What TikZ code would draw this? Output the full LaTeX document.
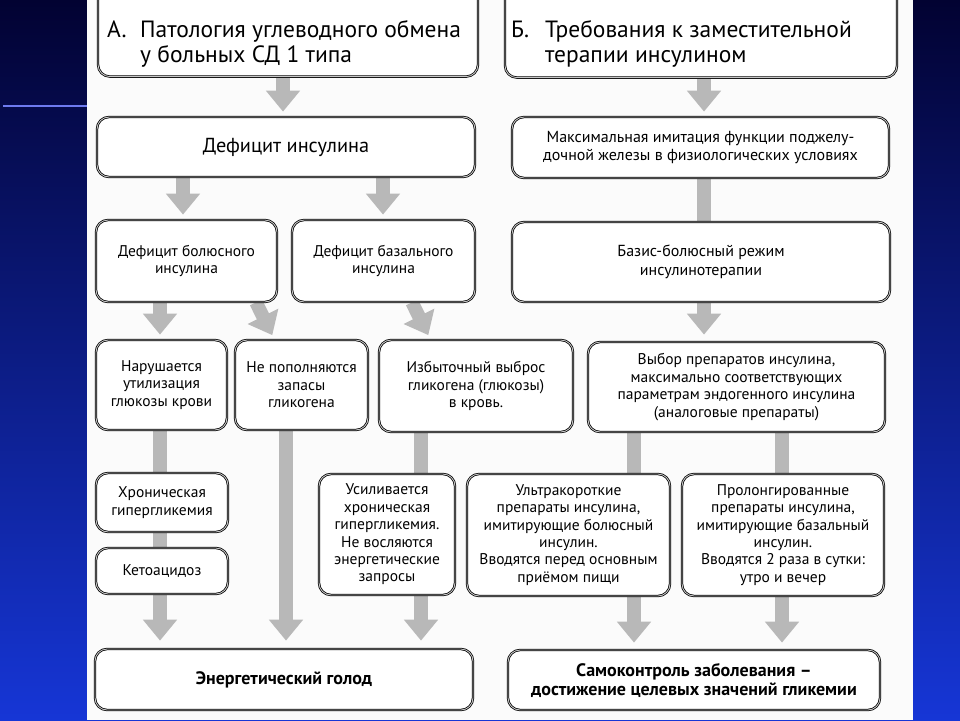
\documentclass[tikz,border=0pt]{standalone}
\usepackage{fontspec}
\setmainfont{PT Sans}
\usetikzlibrary{arrows.meta}
\definecolor{bgtop}{RGB}{2,2,50}
\definecolor{bgbot}{RGB}{22,54,214}
\definecolor{bluerule}{RGB}{110,122,240}
\definecolor{paper}{RGB}{251,251,251}
\definecolor{flow}{RGB}{184,184,184}
\pgfdeclarelayer{paperlayer}
\pgfdeclarelayer{flowlayer}
\pgfsetlayers{paperlayer,flowlayer,main}
\tikzset{
  box/.style={draw=black, double=gray!45, double distance=0.9pt, line width=0.75pt,
    fill=white, rounded corners=12pt, inner sep=0pt, align=center,
    font=\fontsize{15.5}{17.4}\selectfont},
  bigbox/.style={box, font=\fontsize{20.3}{23}\selectfont},
  boldbox/.style={box, font=\bfseries\fontsize{18}{19}\selectfont},
  titletext/.style={anchor=north west, inner sep=0pt, align=left, font=\fontsize{23.5}{25}\selectfont},
  bar/.style={color=flow, line width=13.5pt},
  flowarrow/.style={bar, -{Triangle[width=33pt,length=21pt]}},
}
\begin{document}
\begin{tikzpicture}[x=1pt,y=-1pt]
\useasboundingbox (0,0) rectangle (960,720);
\begin{pgfonlayer}{paperlayer}
\shade[top color=bgtop,bottom color=bgbot] (0,0) rectangle (960,720);
\draw[bluerule, line width=1.5pt] (3,106) -- (87,106);
\fill[paper] (87,0) rectangle (913,720);
\end{pgfonlayer}

\node[box, minimum width=380pt, minimum height=112pt, anchor=south] (patol) at (288,77) {};
\node[titletext] (patoltxt) at (107,20) {\makebox[33pt][l]{А.}Патология углеводного обмена\\\hspace*{33pt}у больных СД 1 типа};
\node[bigbox, minimum width=378pt, minimum height=60pt] (defic) at (286,147) {Дефицит инсулина};
\node[box, minimum width=181pt, minimum height=82pt] (bolus) at (186.5,261) {Дефицит болюсного\\инсулина};
\node[box, minimum width=183pt, minimum height=82pt] (basal) at (383.5,261) {Дефицит базального\\инсулина};
\node[box, minimum width=131pt, minimum height=90pt] (narush) at (161.5,385) {Нарушается\\утилизация\\глюкозы крови};
\node[box, minimum width=133pt, minimum height=90pt] (zapas) at (301.5,385) {Не пополняются\\запасы\\гликогена};
\node[box, minimum width=194pt, minimum height=92pt] (vybros) at (476,386) {Избыточный выброс\\гликогена (глюкозы)\\в кровь.};
\node[box, minimum width=132pt, minimum height=59pt] (hron) at (162,502.5) {Хроническая\\гипергликемия};
\node[box, minimum width=132pt, minimum height=46pt] (keto) at (162,571) {Кетоацидоз};
\node[box, minimum width=136pt, minimum height=121pt] (usil) at (387,534.5) {Усиливается\\хроническая\\гипергликемия.\\Не восляются\\энергетические\\запросы};
\node[boldbox, minimum width=378pt, minimum height=61pt] (golod) at (284,679.5) {Энергетический голод};

\node[box, minimum width=392pt, minimum height=112pt, anchor=south] (treb) at (701,78) {};
\node[titletext] (trebtxt) at (511,20) {\makebox[34pt][l]{Б.}Требования к заместительной\\\hspace*{34pt}терапии инсулином};
\node[box, minimum width=377pt, minimum height=61pt, font=\fontsize{16}{17.4}\selectfont] (imit) at (700.5,147.5) {Максимальная имитация функции поджелу-\\дочной железы в физиологических условиях};
\node[box, minimum width=378pt, minimum height=80pt, font=\fontsize{16}{19}\selectfont] (rezhim) at (701,262) {Базис-болюсный режим\\инсулинотерапии};
\node[box, minimum width=297pt, minimum height=90pt] (vybor) at (736.5,387) {Выбор препаратов инсулина,\\максимально соответствующих\\параметрам эндогенного инсулина\\(аналоговые препараты)};
\node[box, minimum width=203pt, minimum height=122pt] (ultra) at (568.5,535) {Ультракороткие\\препараты инсулина,\\имитирующие болюсный\\инсулин.\\Вводятся перед основным\\приёмом пищи};
\node[box, minimum width=202pt, minimum height=122pt] (prolong) at (783,535) {Пролонгированные\\препараты инсулина,\\имитирующие базальный\\инсулин.\\Вводятся 2 раза в сутки:\\утро и вечер};
\node[boldbox, minimum width=372pt, minimum height=60pt] (samok) at (694,680) {Самоконтроль заболевания –\\достижение целевых значений гликемии};

\coordinate (colpatol) at (283,0);
\coordinate (colbolus) at (183,0);
\coordinate (colbasal) at (383,0);
\coordinate (coltreb) at (704,0);
\coordinate (colnar) at (160,0);
\coordinate (colzap) at (286,0);
\coordinate (colizb) at (421,0);
\coordinate (colultra) at (634,0);
\coordinate (colprol) at (782,0);
\coordinate (diagzapA) at (256,0);
\coordinate (diagzapB) at (274.5,0);
\coordinate (diagizbA) at (412,0);
\coordinate (diagizbB) at (430.5,0);

\begin{pgfonlayer}{flowlayer}
\draw[flowarrow, shorten >=5pt] (patol.south -| colpatol) -- (defic.north -| colpatol);
\draw[flowarrow, shorten >=5pt] (defic.south -| colbolus) -- (bolus.north -| colbolus);
\draw[flowarrow, shorten >=5pt] (defic.south -| colbasal) -- (basal.north -| colbasal);
\draw[flowarrow, shorten >=5pt] (bolus.south -| colnar) -- (narush.north -| colnar);
\draw[flowarrow, shorten >=5pt] (bolus.south -| diagzapA) -- (zapas.north -| diagzapB);
\draw[flowarrow, shorten >=5pt] (basal.south -| diagizbA) -- (vybros.north -| diagizbB);
\draw[bar] (narush.south -| colnar) -- (hron.north -| colnar);
\draw[bar] (hron.south -| colnar) -- (keto.north -| colnar);
\draw[flowarrow, shorten >=8pt] (keto.south -| colnar) -- (golod.north -| colnar);
\draw[flowarrow, shorten >=8pt] (zapas.south -| colzap) -- (golod.north -| colzap);
\draw[bar] (vybros.south -| colizb) -- (usil.north -| colizb);
\draw[flowarrow, shorten >=8pt] (usil.south -| colizb) -- (golod.north -| colizb);
\draw[flowarrow, shorten >=5pt] (treb.south -| coltreb) -- (imit.north -| coltreb);
\draw[bar] (imit.south -| coltreb) -- (rezhim.north -| coltreb);
\draw[flowarrow, shorten >=7pt] (rezhim.south -| coltreb) -- (vybor.north -| coltreb);
\draw[bar] (vybor.south -| colultra) -- (ultra.north -| colultra);
\draw[bar] (vybor.south -| colprol) -- (prolong.north -| colprol);
\draw[flowarrow, shorten >=7pt] (ultra.south -| colultra) -- (samok.north -| colultra);
\draw[flowarrow, shorten >=7pt] (prolong.south -| colprol) -- (samok.north -| colprol);
\end{pgfonlayer}
\end{tikzpicture}
\end{document}
